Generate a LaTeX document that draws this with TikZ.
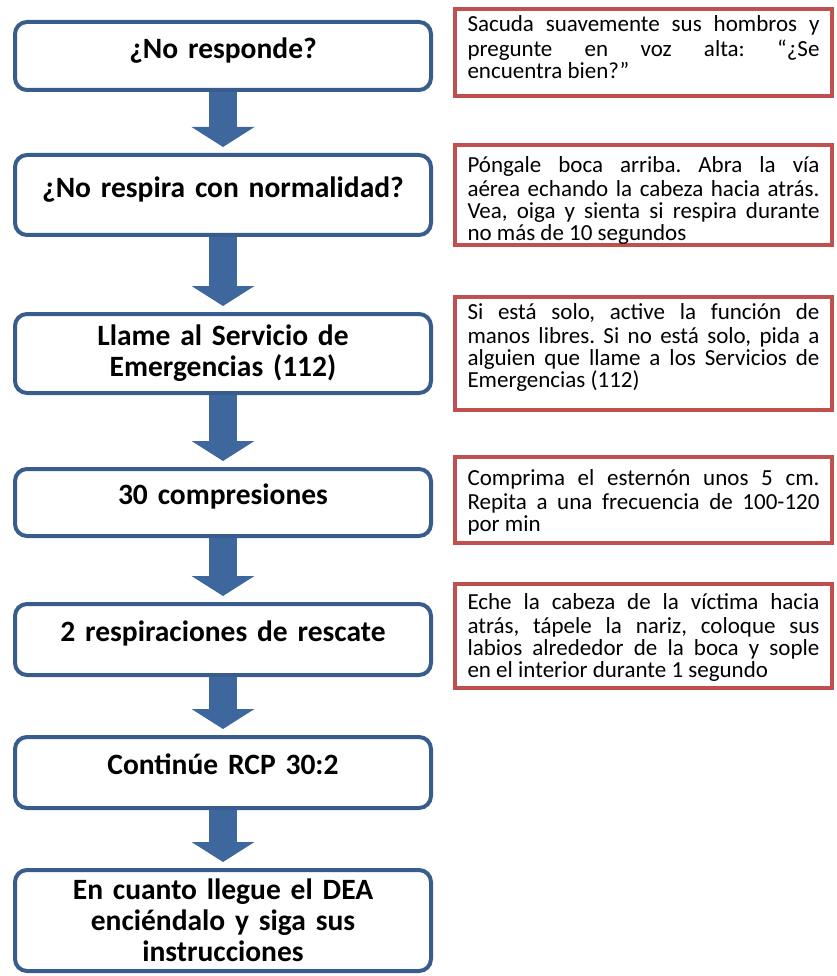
\documentclass[tikz,border=0pt]{standalone}
\usepackage{fontspec}
\setmainfont{Carlito}
\usepackage{tikz}
\usetikzlibrary{arrows.meta}
\definecolor{boxblue}{RGB}{56,93,140}
\definecolor{arrowblue}{RGB}{62,103,158}
\definecolor{notered}{RGB}{192,80,77}
\newcommand\notefont{\fontsize{23pt}{22pt}\selectfont\lineskiplimit-20pt\relax\frenchspacing}
% fixed-height paragraph, text at the top
\newcommand\notepar[2]{\parbox[t][#1][t]{352pt}{\strut #2}}

\begin{document}
\begin{tikzpicture}[x=1pt,y=-1pt]
\tikzstyle{every node}+=[inner sep=0pt]
\tikzstyle{stepbox}=[draw=boxblue, line width=4pt, rounded corners=12pt, fill=white, minimum width=416pt, text width=400pt, align=center, font=\bfseries\fontsize{29.5pt}{31pt}\selectfont]
\tikzstyle{oneline}=[text depth=16pt]
\tikzstyle{notebox}=[draw=notered, line width=4pt, fill=white, minimum width=377pt, inner xsep=12.5pt, font=\notefont]
\tikzstyle{blockarrow}=[arrowblue, line width=28pt, -{Triangle[width=62pt,length=20pt]}, shorten >=6pt]
\useasboundingbox (0,0) rectangle (836,976);
% left column
\node[stepbox, oneline, minimum height=68pt] (b1) at (223,56) {¿No responde?};
\node[stepbox, oneline, minimum height=80pt] (b2) at (223,195) {¿No respira con normalidad?};
\node[stepbox, minimum height=79pt] (b3) at (223,353.5) {Llame al Servicio de\\ Emergencias (112)};
\node[stepbox, oneline, minimum height=67pt] (b4) at (223,502.5) {30 compresiones};
\node[stepbox, oneline, minimum height=71pt] (b5) at (223,639.5) {2 respiraciones de rescate};
\node[stepbox, oneline, minimum height=71pt] (b6) at (223,772.5) {Continúe RCP 30:2};
\node[stepbox, minimum height=101pt] (b7) at (223,920.5) {En cuanto llegue el DEA\\ enciéndalo y siga sus\\ instrucciones};
% right column
\node[notebox, inner ysep=7pt] (n1) at (643.5,52.5) {\notepar{73pt}{Sacuda suavemente sus hombros y\linebreak pregunte en voz alta: “¿Se\linebreak encuentra bien?”}};
\node[notebox, inner ysep=12pt] (n2) at (643.5,195) {\notepar{76pt}{Póngale boca arriba. Abra la vía\linebreak aérea echando la cabeza hacia atrás.\linebreak Vea, oiga y sienta si respira durante\linebreak no más de 10 segundos}};
\node[notebox, inner ysep=7pt] (n3) at (643.5,353.5) {\notepar{99pt}{Si está solo, active la función de\linebreak manos libres. Si no está solo, pida a\linebreak alguien que llame a los Servicios de\linebreak Emergencias (112)}};
\node[notebox, inner ysep=13pt] (n4) at (643.5,500) {\notepar{60pt}{Comprima el esternón unos 5 cm.\linebreak Repita a una frecuencia de 100-120\linebreak por min}};
\node[notebox, inner ysep=10pt] (n5) at (643.5,636) {\notepar{84pt}{Eche la cabeza de la víctima hacia\linebreak atrás, tápele la nariz, coloque sus\linebreak labios alrededor de la boca y sople\linebreak en el interior durante 1 segundo}};
% arrows
\draw[blockarrow] (b1) -- (b2);
\draw[blockarrow] (b2) -- (b3);
\draw[blockarrow] (b3) -- (b4);
\draw[blockarrow] (b4) -- (b5);
\draw[blockarrow] (b5) -- (b6);
\draw[blockarrow] (b6) -- (b7);
\end{tikzpicture}
\end{document}
